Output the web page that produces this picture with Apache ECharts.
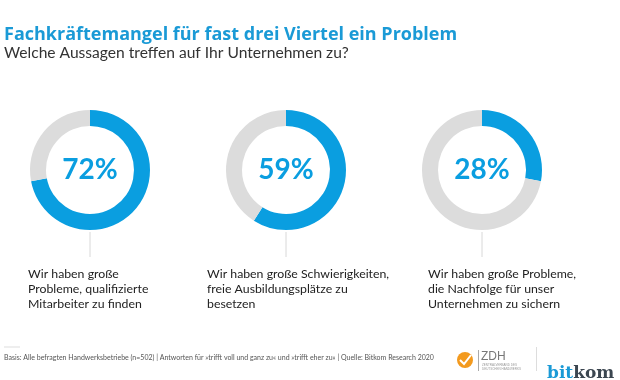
<!DOCTYPE html>
<html>
<head>
<meta charset="utf-8">
<script src="https://cdn.jsdelivr.net/npm/echarts@6/dist/echarts.min.js"></script>
<style>
html,body{margin:0;padding:0;background:#fff;}
#main{width:620px;height:380px;}
</style>
</head>
<body>
<div id="main"></div>
<script>
// Data
var titleText = 'Fachkräftemangel für fast drei Viertel ein Problem';
var subtitleText = 'Welche Aussagen treffen auf Ihr Unternehmen zu?';
var values = [72, 59, 28];
var statements = [
  'Wir haben große\nProbleme, qualifizierte\nMitarbeiter zu finden',
  'Wir haben große Schwierigkeiten,\nfreie Ausbildungsplätze zu\nbesetzen',
  'Wir haben große Probleme,\ndie Nachfolge für unser\nUnternehmen zu sichern'
];
var footerText = 'Basis: Alle befragten Handwerksbetriebe (n=502) | Antworten für »trifft voll und ganz zu« und »trifft eher zu« | Quelle: Bitkom Research 2020';

// Layout
var centersX = [90, 286, 482];
var centerY = 170;
var labelX = [28, 207, 428];
var BLUE = '#0a9ee0';
var GRAY = '#dcdcdc';
var FONT = 'Lato';

var chart = echarts.init(document.getElementById('main'), null, {renderer: 'canvas'});

var series = values.map(function (v, i) {
  return {
    type: 'pie',
    silent: true,
    animation: false,
    center: [centersX[i], centerY],
    radius: [44, 60],
    startAngle: 90,
    clockwise: true,
    label: {show: false},
    labelLine: {show: false},
    data: [
      {value: v, name: 'ja', itemStyle: {color: BLUE},
        label: {show: true, position: 'center', formatter: v + '%',
          fontFamily: FONT, fontWeight: 'bold', fontSize: 28, color: BLUE}},
      {value: 100 - v, name: 'rest', itemStyle: {color: GRAY}}
    ]
  };
});

var graphics = [];
// title & subtitle
graphics.push({type: 'text', x: 4, y: 35, style: {text: titleText, font: 'bold 18px "Open Sans"', fill: '#1a9ad6', verticalAlign: 'middle'}});
graphics.push({type: 'text', x: 4, y: 53, style: {text: subtitleText, font: '15.6px ' + FONT, fill: '#333333', verticalAlign: 'middle'}});
// connectors and statements
values.forEach(function (v, i) {
  graphics.push({type: 'line', shape: {x1: centersX[i], y1: 232, x2: centersX[i], y2: 257},
    style: {stroke: '#d8d8d8', lineWidth: 1}, silent: true});
  graphics.push({type: 'text', x: labelX[i], y: 267, style: {text: statements[i], font: '12.3px ' + FONT,
    fill: '#222222', lineHeight: 15, verticalAlign: 'top'}});
});
// footer
graphics.push({type: 'line', shape: {x1: 4, y1: 347, x2: 20, y2: 347}, style: {stroke: '#dddddd', lineWidth: 1}});
graphics.push({type: 'text', x: 4, y: 358, style: {text: footerText, font: '7px ' + FONT, fill: '#555555', verticalAlign: 'middle'}});
// ZDH logo approximation
graphics.push({type: 'circle', shape: {cx: 465, cy: 360, r: 8}, style: {fill: '#f39a1e'}});
graphics.push({type: 'polyline', shape: {points: [[460, 360], [464, 364], [471, 355]]}, style: {stroke: '#ffffff', lineWidth: 2, fill: null}});
graphics.push({type: 'line', shape: {x1: 478.5, y1: 350, x2: 478.5, y2: 371}, style: {stroke: '#aaaaaa', lineWidth: 1}});
graphics.push({type: 'text', x: 481, y: 357, style: {text: 'ZDH', font: '12px "Liberation Sans"', fill: '#777777', verticalAlign: 'middle'}});
graphics.push({type: 'text', x: 482, y: 367, style: {text: 'ZENTRALVERBAND DES\nDEUTSCHEN HANDWERKS', font: '3px "Liberation Sans"', fill: '#999999', verticalAlign: 'middle', lineHeight: 3.5}});
graphics.push({type: 'line', shape: {x1: 536.5, y1: 347, x2: 536.5, y2: 371}, style: {stroke: '#dddddd', lineWidth: 1}});
graphics.push({type: 'text', x: 547, y: 365, style: {
  text: '{a|bit}{b|kom}', verticalAlign: 'alphabetic',
  rich: {a: {font: 'bold 17px "DejaVu Serif"', fill: '#1a9ad6'}, b: {font: 'bold 17px "DejaVu Serif"', fill: '#3b4650'}}
}});

chart.setOption({
  backgroundColor: '#ffffff',
  animation: false,
  series: series,
  graphic: graphics
});
</script>
</body>
</html>
